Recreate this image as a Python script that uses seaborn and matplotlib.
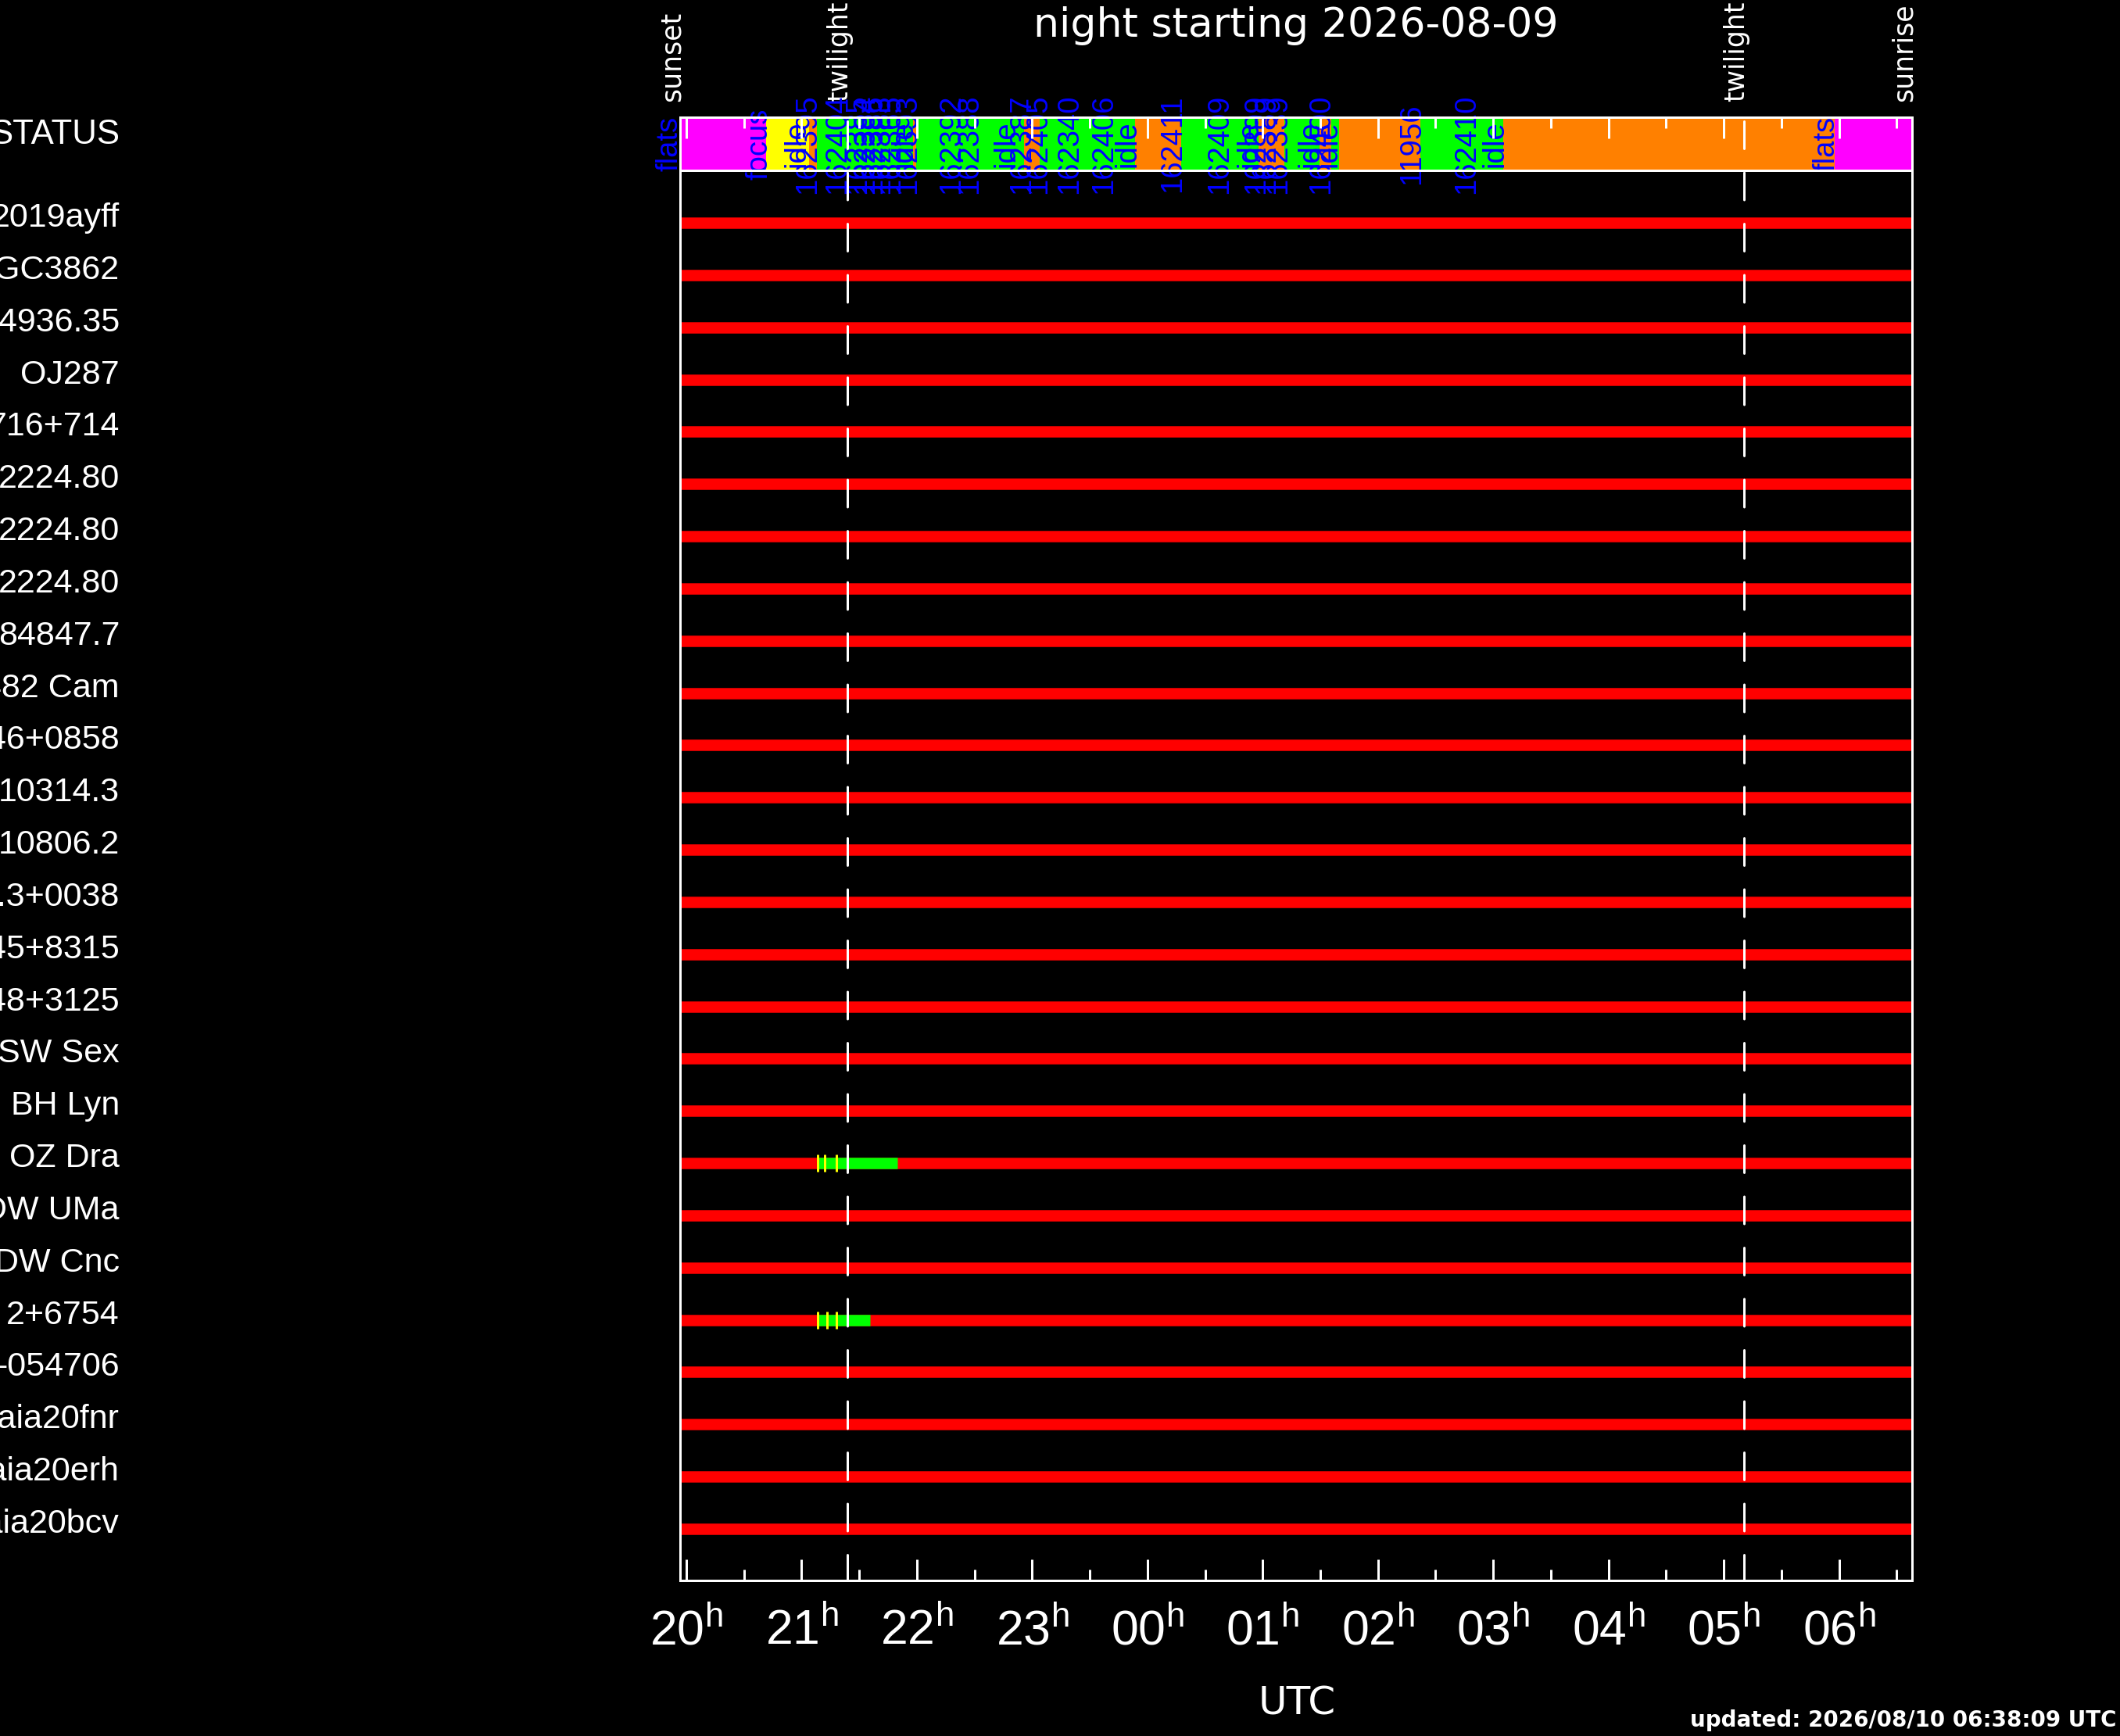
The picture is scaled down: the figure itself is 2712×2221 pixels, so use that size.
import numpy as np
import pandas as pd
import matplotlib
matplotlib.use("Agg")
import matplotlib.pyplot as plt
import seaborn as sns
from matplotlib import font_manager as fm
from matplotlib.transforms import blended_transform_factory

# ---------------- data ----------------
night_date = "2026-08-09"
updated_text = "updated: 2026/08/10 06:38:09 UTC"
sunset_h = 19.946
sunrise_h = 30.634
twilight_eve_h = 21.397
twilight_morn_h = 29.176

event_names = ["sunset", "twilight", "twilight", "sunrise"]
event_times = [sunset_h, twilight_eve_h, twilight_morn_h, sunrise_h]

targets = ["2019ayff", "NGC3862", "4936.35", "OJ287", "716+714", "2224.80",
           "2224.80", "2224.80", "84847.7", "482 Cam", "46+0858", "10314.3",
           "10806.2", "3.3+0038", "45+8315", "48+3125", "SW Sex", "BH Lyn",
           "OZ Dra", "DW UMa", "DW Cnc", "2+6754", "-054706", "Gaia20fnr",
           "Gaia20erh", "Gaia20bcv"]

# telescope status bar: segment start times (h, >24 = after midnight) and colours
status_starts = [19.946, 20.692, 21.065, 21.133, 21.967, 21.994, 22.930, 23.065,
                 23.893, 24.293, 24.964, 25.188, 25.493, 25.595, 25.663, 26.368,
                 27.087, 29.963]
status_colors = ["#FF00FF", "#FFFF00", "#FF8000", "#00FF00", "#FF8000", "#00FF00",
                 "#FF8000", "#00FF00", "#FF8000", "#00FF00", "#FF8000", "#00FF00",
                 "#FF8000", "#00FF00", "#FF8000", "#00FF00", "#FF8000", "#FF00FF"]

# scheduler job labels in the status bar
job_times = [19.925, 20.699, 21.031, 21.119, 21.380, 21.553, 21.621, 21.689,
             21.757, 21.845, 21.960, 21.987, 22.367, 22.523, 22.842, 22.977,
             23.120, 23.391, 23.689, 23.893, 24.286, 24.693, 24.951, 25.010,
             25.100, 25.200, 25.480, 25.575, 25.640, 26.360, 26.840, 27.087,
             29.956]
job_labels = ["flats", "focus", "idle", "162395", "162404", "162385", "162384",
              "162386", "162383", "162365", "idle", "162393", "162392", "162388",
              "idle", "162387", "162405", "162340", "162406", "idle", "162411",
              "162409", "idle", "162399", "162389", "162339", "idle", "162400",
              "idle", "11956", "162410", "idle", "flats"]

# observed targets: green (done) interval and yellow exposure marks
active_targets = ["OZ Dra", "2+6754"]
active_start = [21.133, 21.133]
active_end = [21.833, 21.592]
exp_targets = ["OZ Dra", "OZ Dra", "OZ Dra", "2+6754", "2+6754", "2+6754"]
exp_times = [21.137, 21.200, 21.300, 21.137, 21.218, 21.300]

hour_ticks = list(range(20, 31))
hour_labels = ["20", "21", "22", "23", "00", "01", "02", "03", "04", "05", "06"]

# ---------------- style ----------------
sns.set_theme(style="dark")
avail = {f.name for f in fm.fontManager.ttflist}
sans = "Liberation Sans" if "Liberation Sans" in avail else "DejaVu Sans"
narrow = "Liberation Sans Narrow" if "Liberation Sans Narrow" in avail else sans
narrow_size = 31 if narrow == "Liberation Sans Narrow" else 27.5
plt.rcParams.update({
    "font.family": ["DejaVu Sans"],
    "figure.facecolor": "black",
    "axes.facecolor": "black",
    "savefig.facecolor": "black",
    "lines.scale_dashes": False,
    "mathtext.fontset": "custom",
    "mathtext.rm": sans,
    "mathtext.it": sans,
    "axes.grid": False,
})

W, H = 2712, 2221
fig = plt.figure(figsize=(W / 100, H / 100), dpi=100)
ax = fig.add_axes([870 / W, 1 - 2022 / H, (2446 - 870) / W, (2022 - 150) / H])
ax.set_facecolor("black")

nrow = len(targets)
ax.set_xlim(sunset_h, sunrise_h)
ax.set_ylim(25.99, -2.02)

bar_lw = 14.5 * 72 / 100
thin = 3 * 72 / 100

# status bar
ends = status_starts[1:] + [sunrise_h]
segs = [(s, e - s) for s, e in zip(status_starts, ends)]
ax.broken_barh(segs, (-2.02, 1.02), facecolors=status_colors, edgecolor="none", zorder=1)
ax.axhline(-1.0, color="white", lw=thin, zorder=8)

# target rows
rows = pd.DataFrame({"target": targets, "row": np.arange(nrow)})
ax.hlines(rows["row"], sunset_h, sunrise_h, colors="#FF0000", lw=bar_lw, zorder=2)
act = pd.DataFrame({"target": active_targets, "start": active_start, "end": active_end})
act = act.merge(rows, on="target")
ax.hlines(act["row"], act["start"], act["end"], colors="#00FF00", lw=bar_lw, zorder=3)
exp = pd.DataFrame({"target": exp_targets, "time": exp_times}).merge(rows, on="target")
sns.scatterplot(data=exp, x="time", y="row", marker="|", s=(23 * 0.72) ** 2,
                color="#FFFF00", linewidth=thin, ax=ax, zorder=4, legend=False)

# twilight dashed lines
y_dash_top = (155 - 285) / 66.84
for t in [twilight_eve_h, twilight_morn_h]:
    ax.plot([t, t], [y_dash_top, 25.99], color="white", lw=thin,
            linestyle=(0, (35 * 0.72, 30.5 * 0.72)), zorder=7,
            dash_capstyle="round")

# job labels
y_status = (184 - 285) / 66.84
for t, lbl in zip(job_times, job_labels):
    ax.text(t, y_status, lbl, rotation=90, rotation_mode="anchor", ha="center",
            va="baseline", color="#0000FF", fontsize=narrow_size, family=narrow,
            clip_on=False, zorder=5)

# event labels above the bar
y_evt = (130 - 285) / 66.84
for t, name in zip(event_times, event_names):
    ax.text(t, y_evt, name, rotation=90, rotation_mode="anchor", ha="left",
            va="baseline", color="white", fontsize=25, family="DejaVu Sans",
            clip_on=False)

# target names at left
trans = blended_transform_factory(fig.transFigure, ax.transData)
ax.text(153 / W, y_status, "STATUS", transform=trans, ha="right", va="baseline",
        color="white", fontsize=31.5, family=sans, clip_on=False)
for r, name in zip(rows["row"], rows["target"]):
    ax.text(153 / W, r + 0.075, name, transform=trans, ha="right", va="baseline",
            color="white", fontsize=31, family=sans, clip_on=False)

# axes / ticks
for sp in ax.spines.values():
    sp.set_color("white")
    sp.set_linewidth(thin)
    sp.set_zorder(8)
ax.set_xticks(hour_ticks)
ax.set_xticks(np.arange(20.5, 31, 1.0), minor=True)
ax.set_xticklabels([h + r"$^{\mathrm{h}}$" for h in hour_labels], family=sans,
                   fontsize=45, color="white")
ax.tick_params(axis="x", which="major", direction="in", length=19.5, width=thin,
               color="white", top=True, bottom=True, pad=26)
ax.tick_params(axis="x", which="minor", direction="in", length=9.8, width=thin,
               color="white", top=True, bottom=True)
ax.set_yticks([])
ax.xaxis.set_zorder(8)
ax.set_xlabel("")
ax.set_ylabel("")

fig.text(1658 / W, 1 - 47 / H, "night starting " + night_date, ha="center",
         va="baseline", color="white", fontsize=37.5, family="DejaVu Sans")
fig.text(1659 / W, 1 - 2193 / H, "UTC", ha="center", va="baseline",
         color="white", fontsize=36, family="DejaVu Sans")
fig.text(2708 / W, 1 - 2209 / H, updated_text, ha="right", va="baseline",
         color="white", fontsize=20, fontweight="bold", family="DejaVu Sans")

fig.savefig("out.png", dpi=100, facecolor="black")
